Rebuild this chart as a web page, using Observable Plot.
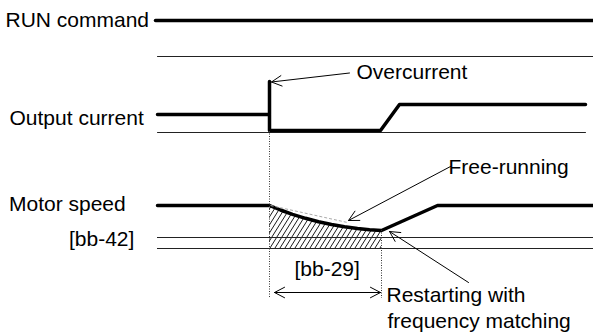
<!DOCTYPE html>
<html><head><meta charset="utf-8">
<script src="https://cdn.jsdelivr.net/npm/d3@7"></script>
<script src="https://cdn.jsdelivr.net/npm/@observablehq/plot@0.6"></script>
<style>body{margin:0;background:#fff}</style>
</head><body><div id="chart"></div>
<script>
// ---- diagram data: time positions (t) and signal levels (lv), diagram units ----
const runT = [155, 593];
const runLv = [20, 20];
const sepT = [157, 593];
const sepLv = [56, 56];
const curT = [157, 269, 269, 269, 380, 399, 585];
const curLv = [114, 114, 81, 130, 130, 104, 104];
const curBaseT = [157, 585];
const curBaseLv = [132, 132];
const spdT = [157, 269, 280, 292, 305, 318, 331, 344, 357, 369, 381, 437, 593];
const spdLv = [205, 205, 209.5, 213.8, 217.8, 221.2, 224, 226.3, 228, 229.2, 230, 205, 205];
const coastT = spdT.slice(1, 11);
const coastLv = spdLv.slice(1, 11);
const bb42T = [157, 593];
const bb42Lv = [237, 248];
const chordT = [270, 347];
const chordLv = [205, 222];
const markerT = [269, 381];
const markerTop = [131, 230];
const markerBottom = [298, 298];
const arrowT1 = [349, 450, 468, 327, 327];
const arrowLv1 = [72.5, 166, 282, 292, 292];
const arrowT2 = [271, 348, 389, 274, 380];
const arrowLv2 = [81.5, 220, 231, 292, 292];
const labels = ["RUN command", "Output current", "Motor speed", "[bb-42]", "Overcurrent", "Free-running", "[bb-29]", "Restarting with", "frequency matching"];
const labelT = [5, 9, 8.5, 68.5, 356, 448, 294, 386, 387];
const labelLv = [26, 124, 210, 245, 78, 173, 275, 301, 327];

const idx = a => a.map((_, i) => i);
const font = "'Liberation Sans', Arial, sans-serif";

const svg = Plot.plot({
  width: 593, height: 336, margin: 0,
  x: {domain: [0, 593], axis: null},
  y: {domain: [0, 336], reverse: true, axis: null},
  style: {fontFamily: font, background: "#fff"},
  marks: [
    Plot.areaY(idx(coastT), {x: i => coastT[i], y1: bb42Lv[1], y2: i => coastLv[i], fill: "url(#hatch)", curve: "monotone-x"}),
    Plot.line(idx(sepT), {x: i => sepT[i], y: i => sepLv[i], stroke: "#222", strokeWidth: 1}),
    Plot.line(idx(curBaseT), {x: i => curBaseT[i], y: i => curBaseLv[i], stroke: "#222", strokeWidth: 1}),
    Plot.ruleY(bb42Lv, {x1: bb42T[0], x2: bb42T[1], y: d => d, stroke: "#222", strokeWidth: 1}),
    Plot.line(idx(runT), {x: i => runT[i], y: i => runLv[i], stroke: "#000", strokeWidth: 3.5}),
    Plot.line(idx(curT), {x: i => curT[i], y: i => curLv[i], stroke: "#000", strokeWidth: 3.5}),
    Plot.line(idx(spdT), {x: i => spdT[i], y: i => spdLv[i], stroke: "#000", strokeWidth: 3.5}),
    Plot.link([0], {x1: chordT[0], y1: chordLv[0], x2: chordT[1], y2: chordLv[1], stroke: "#aaa", strokeWidth: 1, strokeDasharray: "3,2"}),
    Plot.ruleX(idx(markerT), {x: i => markerT[i], y1: i => markerTop[i], y2: i => markerBottom[i], stroke: "#333", strokeWidth: 1, strokeDasharray: "1,1.5"}),
    Plot.arrow(idx(arrowT1), {x1: i => arrowT1[i], y1: i => arrowLv1[i], x2: i => arrowT2[i], y2: i => arrowLv2[i], stroke: "#000", strokeWidth: 1, headLength: 17, headAngle: 55}),
    Plot.text(idx(labels), {x: i => labelT[i], y: i => labelLv[i], text: i => labels[i], textAnchor: "start", lineAnchor: "bottom", fontSize: 21, fill: "#000"})
  ]
});

const defs = document.createElementNS("http://www.w3.org/2000/svg", "defs");
defs.innerHTML = '<pattern id="hatch" patternUnits="userSpaceOnUse" width="5" height="8">' +
  '<path d="M0,8 L5,0 M-1,1.6 L1,-1.6 M4,9.6 L6,6.4" stroke="#000" stroke-width="0.9" fill="none"/></pattern>';
svg.insertBefore(defs, svg.firstChild);
document.getElementById("chart").appendChild(svg);
</script>
</body></html>
